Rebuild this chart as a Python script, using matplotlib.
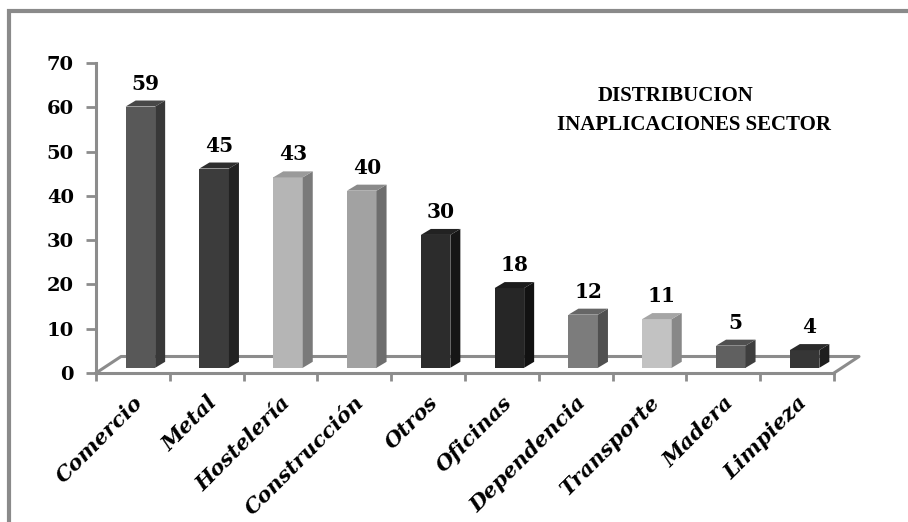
import matplotlib
matplotlib.use("Agg")
import matplotlib.pyplot as plt
from matplotlib.patches import Polygon, Rectangle
import numpy as np

sectores = ["Comercio", "Metal", "Hostelería", "Construcción", "Otros",
            "Oficinas", "Dependencia", "Transporte", "Madera", "Limpieza"]
valores = [59, 45, 43, 40, 30, 18, 12, 11, 5, 4]
frente = ["#585858", "#3c3c3c", "#b5b5b5", "#a2a2a2", "#2c2c2c",
          "#262626", "#7c7c7c", "#c2c2c2", "#606060", "#363636"]
lateral = ["#383838", "#222222", "#7a7a7a", "#6e6e6e", "#161616",
           "#121212", "#505050", "#888888", "#3e3e3e", "#1e1e1e"]
techo = ["#484848", "#2e2e2e", "#9a9a9a", "#8a8a8a", "#222222",
         "#1c1c1c", "#666666", "#a5a5a5", "#505050", "#2a2a2a"]

W, H = 908, 522
fig = plt.figure(figsize=(W / 100, H / 100), dpi=100)
fig.patch.set_facecolor("white")

# marco exterior del grafico
fig.add_artist(Rectangle((9 / W, -0.05), 1.0, (H - 11) / H + 0.05, transform=fig.transFigure,
                         fill=False, ec="#8a8a8a", lw=3))

x0, x1, y0, y1 = 96, 834, 373, 63
ax = fig.add_axes([x0 / W, (H - y0) / H, (x1 - x0) / W, (y0 - y1) / H])
ax.set_xlim(-0.5, len(sectores) - 0.5)
ax.set_ylim(0, 70)
ax.patch.set_alpha(0)

# escala px -> datos
px_x = (x1 - x0) / len(sectores)
px_y = (y0 - y1) / 70

# suelo 3D
fdx, fdy = 25 / px_x, 16.5 / px_y
n = len(sectores)
gris = "#8c8c8c"
ax.plot([-0.5, -0.5 + fdx, n - 0.5 + fdx, n - 0.5], [0, fdy, fdy, 0],
        color=gris, lw=2.2, clip_on=False, zorder=1)

# barras: cara frontal, lateral y superior
bdx, bdy = 7.5 / px_x, 5.2 / px_y
sdx, sdy = 10 / px_x, 6 / px_y
ancho = 29.5 / px_x
x = np.arange(n)
izq = x + bdx - ancho / 2
base = bdy
ax.bar(x + bdx, valores, width=ancho, bottom=base, color=frente, zorder=3, clip_on=False)
for i, v in enumerate(valores):
    l, r, t = izq[i], izq[i] + ancho, base + v
    ax.add_patch(Polygon([(r, base), (r + sdx, base + sdy), (r + sdx, t + sdy), (r, t)],
                         closed=True, fc=lateral[i], ec="none", zorder=3, clip_on=False))
    ax.add_patch(Polygon([(l, t), (l + sdx, t + sdy), (r + sdx, t + sdy), (r, t)],
                         closed=True, fc=techo[i], ec="none", zorder=3, clip_on=False))
    ax.annotate(str(v), (x[i] + bdx + sdx / 2, t + sdy), xytext=(0, 5), textcoords="offset points",
                ha="center", va="bottom", fontsize=14.5, fontweight="bold",
                family="DejaVu Serif", color="black", zorder=4)

for s in ["top", "right"]:
    ax.spines[s].set_visible(False)
ax.spines["left"].set_color(gris)
ax.spines["left"].set_linewidth(2.2)
ax.spines["bottom"].set_color(gris)
ax.spines["bottom"].set_linewidth(2.2)

ax.set_yticks(range(0, 71, 10))
ax.tick_params(axis="y", length=7, width=2, color=gris, pad=9, labelcolor="black")
for lab in ax.get_yticklabels():
    lab.set_fontsize(14)
    lab.set_fontweight("bold")
    lab.set_family("DejaVu Serif")

ax.set_xticks(np.arange(-0.5, n, 1.0), minor=True)
ax.set_xticks(x)
ax.tick_params(axis="x", which="minor", length=6, width=2, color=gris)
ax.tick_params(axis="x", which="major", length=0, pad=14, labelcolor="black")
ax.set_xticklabels(sectores, rotation=45, ha="right", rotation_mode="anchor",
                   fontsize=15.3, fontweight="bold", fontstyle="italic", family="DejaVu Serif")

fig.text(675 / W, 1 - 96 / H, "DISTRIBUCION", ha="center", va="center",
         fontsize=15, fontweight="bold", family="Liberation Serif", color="black")
fig.text(694 / W, 1 - 125 / H, "INAPLICACIONES SECTOR", ha="center", va="center",
         fontsize=15, fontweight="bold", family="Liberation Serif", color="black")

fig.savefig("out.png", dpi=100)
